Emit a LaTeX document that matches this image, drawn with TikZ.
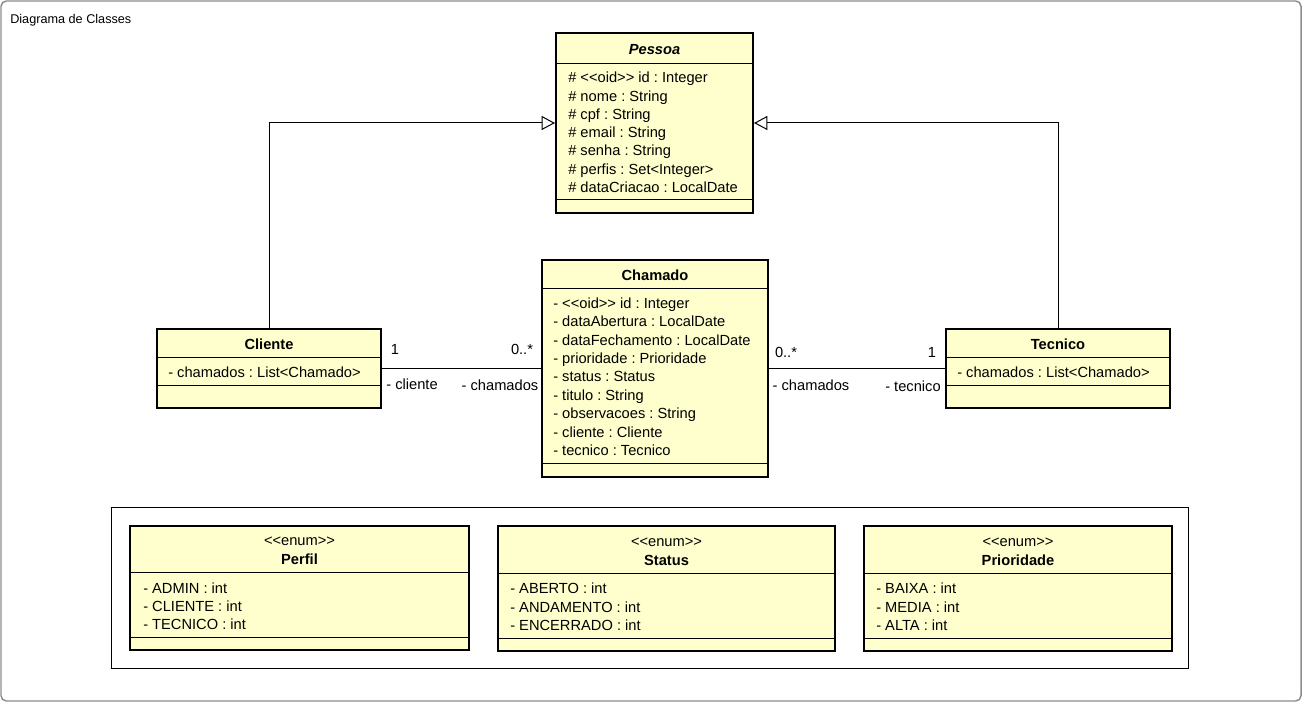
\documentclass[tikz,border=0pt]{standalone}
\usepackage{fontspec}
\setmainfont{Liberation Sans}[Ligatures=TeXOff]
\usepackage{tikz}
\usetikzlibrary{arrows.meta,positioning}

\definecolor{umlfill}{HTML}{FFFFCE}
\definecolor{framegray}{HTML}{8C8C8C}
\newcommand{\umlfont}{\fontsize{11pt}{13pt}\selectfont\frenchspacing}

\tikzset{
  cls/.style={draw, line width=1.5pt, fill=umlfill, inner sep=0pt},
  txt/.style={inner sep=0pt, font=\umlfont, text height=7.9pt, text depth=0pt},
  attr/.style={txt, anchor=west},
  ttl/.style={txt, font=\umlfont\bfseries},
  sepline/.style={line width=0.75pt},
  gen/.style={-{Triangle[open, length=10pt, width=10.5pt]}, line width=0.75pt},
  assoc/.style={line width=0.75pt}
}

\begin{document}
\begin{tikzpicture}[x=0.75pt, y=-0.75pt]
		\useasboundingbox (0,0) rectangle (1302,702);
		\draw[framegray, line width=1.1pt, rounded corners=4pt, fill=white] (1,1) rectangle (1301,701);
		\node[txt, anchor=west, font=\fontsize{9.5pt}{11pt}\selectfont, text height=6.8pt] (diagtitle) at (10,19) {Diagrama de Classes};

		% Pessoa
		\node[cls, minimum width=147.75pt, minimum height=135pt] (pessoa) at (654.5,123) {};
		\draw[sepline] (pessoa.west |- 0,64) -- (pessoa.east |- 0,64);
		\draw[sepline] (pessoa.west |- 0,200) -- (pessoa.east |- 0,200);
		\node[ttl, font=\umlfont\bfseries\itshape] (pessoaT) at (654.5,49) {Pessoa};
		\node[attr] (pessoa1) at (568,77.5) {\# <<oid>> id : Integer};
		\node[attr] (pessoa2) at (568,95.8) {\# nome : String};
		\node[attr] (pessoa3) at (568,114.1) {\# cpf : String};
		\node[attr] (pessoa4) at (568,132.4) {\# email : String};
		\node[attr] (pessoa5) at (568,150.7) {\# senha : String};
		\node[attr] (pessoa6) at (568,169) {\# perfis : Set<Integer>};
		\node[attr] (pessoa7) at (568,187.3) {\# dataCriacao : LocalDate};

		% Chamado
		\node[cls, minimum width=169.5pt, minimum height=162.75pt] (chamado) at (655,368.5) {};
		\draw[sepline] (chamado.west |- 0,288) -- (chamado.east |- 0,288);
		\draw[sepline] (chamado.west |- 0,463) -- (chamado.east |- 0,463);
		\node[ttl] (chamadoT) at (655,275) {Chamado};
		\node[attr] (chamado1) at (553,303) {- <<oid>> id : Integer};
		\node[attr] (chamado2) at (553,321.4) {- dataAbertura : LocalDate};
		\node[attr] (chamado3) at (553,339.8) {- dataFechamento : LocalDate};
		\node[attr] (chamado4) at (553,358.2) {- prioridade : Prioridade};
		\node[attr] (chamado5) at (553,376.6) {- status : Status};
		\node[attr] (chamado6) at (553,395) {- titulo : String};
		\node[attr] (chamado7) at (553,413.4) {- observacoes : String};
		\node[attr] (chamado8) at (553,431.8) {- cliente : Cliente};
		\node[attr] (chamado9) at (553,450.2) {- tecnico : Tecnico};

		% Cliente
		\node[cls, minimum width=168pt, minimum height=59.25pt] (cliente) at (269,368.5) {};
		\draw[sepline] (cliente.west |- 0,357) -- (cliente.east |- 0,357);
		\draw[sepline] (cliente.west |- 0,385) -- (cliente.east |- 0,385);
		\node[ttl] (clienteT) at (269,344) {Cliente};
		\node[attr] (cliente1) at (168,372.5) {- chamados : List<Chamado>};

		% Tecnico
		\node[cls, minimum width=168pt, minimum height=59.25pt] (tecnico) at (1058,368.5) {};
		\draw[sepline] (tecnico.west |- 0,357) -- (tecnico.east |- 0,357);
		\draw[sepline] (tecnico.west |- 0,385) -- (tecnico.east |- 0,385);
		\node[ttl] (tecnicoT) at (1058,344) {Tecnico};
		\node[attr] (tecnico1) at (957,372.5) {- chamados : List<Chamado>};

		% heranca
		\draw[gen] (cliente.north) |- (pessoa.west);
		\draw[gen] (tecnico.north) |- (pessoa.east);

		% associacoes
		\draw[assoc] (cliente.east) -- (cliente.east -| chamado.west);
		\node[txt] (multCli) at (395,349) {1};
		\node[txt] (multCha1) at (522,349) {0..*};
		\node[txt] (roleCli) at (412,384) {- cliente};
		\node[txt] (roleCha1) at (500,385) {- chamados};
		\draw[assoc] (chamado.east |- tecnico.west) -- (tecnico.west);
		\node[txt] (multCha2) at (786,352) {0..*};
		\node[txt] (multTec) at (932,352) {1};
		\node[txt] (roleCha2) at (811,385.5) {- chamados};
		\node[txt] (roleTec) at (913,386) {- tecnico};

		% enums
		\node[draw, line width=0.75pt, fill=white, minimum width=807.75pt, minimum height=120.75pt] (enums) at (649.5,587.5) {};

		\node[cls, minimum width=254.25pt, minimum height=93pt] (perfil) at (299.5,588) {};
		\draw[sepline] (perfil.west |- 0,572) -- (perfil.east |- 0,572);
		\draw[sepline] (perfil.west |- 0,637) -- (perfil.east |- 0,637);
		\node[txt] (perfilS) at (299.5,540) {<<enum>>};
		\node[ttl] (perfilT) at (299.5,559) {Perfil};
		\node[attr] (perfil1) at (143,588) {- ADMIN : int};
		\node[attr] (perfil2) at (143,606.3) {- CLIENTE : int};
		\node[attr] (perfil3) at (143,624.6) {- TECNICO : int};

		\node[cls, minimum width=252.75pt, minimum height=93.75pt] (status) at (666.5,588.5) {};
		\draw[sepline] (status.west |- 0,573) -- (status.east |- 0,573);
		\draw[sepline] (status.west |- 0,638) -- (status.east |- 0,638);
		\node[txt] (statusS) at (666.5,541) {<<enum>>};
		\node[ttl] (statusT) at (666.5,560) {Status};
		\node[attr] (status1) at (510,588.5) {- ABERTO : int};
		\node[attr] (status2) at (510,606.8) {- ANDAMENTO : int};
		\node[attr] (status3) at (510,625.1) {- ENCERRADO : int};

		\node[cls, minimum width=231pt, minimum height=93.75pt] (prioridade) at (1018,588.5) {};
		\draw[sepline] (prioridade.west |- 0,573) -- (prioridade.east |- 0,573);
		\draw[sepline] (prioridade.west |- 0,638) -- (prioridade.east |- 0,638);
		\node[txt] (prioridadeS) at (1018,541) {<<enum>>};
		\node[ttl] (prioridadeT) at (1018,560) {Prioridade};
		\node[attr] (prioridade1) at (876,588.5) {- BAIXA : int};
		\node[attr] (prioridade2) at (876,606.8) {- MEDIA : int};
		\node[attr] (prioridade3) at (876,625.1) {- ALTA : int};
	\end{tikzpicture}
\end{document}
